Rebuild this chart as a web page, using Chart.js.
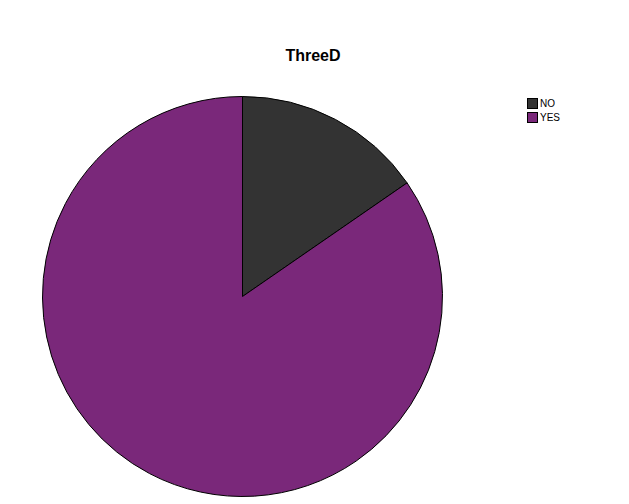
<!DOCTYPE html>
<html>
<head>
<meta charset="utf-8">
<script src="https://cdn.jsdelivr.net/npm/chart.js@4/dist/chart.umd.min.js"></script>
<style>
  body { margin: 0; background: #fff; width: 629px; height: 504px; overflow: hidden; position: relative; font-family: "Liberation Sans", Arial, sans-serif; }
  #title { position: absolute; left: 0; width: 629px; top: 47px; font-size: 16px; font-weight: bold; color: #000; }
  #title span { position: absolute; left: 313px; transform: translateX(-50%); white-space: nowrap; }
  #chart-container { position: absolute; left: 42px; top: 96px; width: 401px; height: 401px; }
  #legend { position: absolute; left: 527px; top: 98px; font-size: 10px; color: #000; }
  .item { height: 14px; line-height: 12px; white-space: nowrap; }
  .box { display: inline-block; width: 9px; height: 9px; border: 1px solid #000; vertical-align: top; margin-right: 2px; }
</style>
</head>
<body>
<div id="title"><span>ThreeD</span></div>
<div id="chart-container"><canvas id="MainChart"></canvas></div>
<div id="legend"></div>
<script>
// pie: NO / YES counts
var categories = ["NO", "YES"];
var values = [2, 11];
var colors = ['rgb(51, 51, 51)', 'rgb(122, 40, 122)'];

function drawLegend(){
    var legend = document.getElementById("legend");
    legend.innerHTML = "";
    for (var i = 0; i < categories.length; i++) {
        var row = document.createElement('div');
        row.className = 'item';
        row.innerHTML = '<span class="box" style="background:' + colors[i] + '"></span>' + categories[i];
        legend.appendChild(row);
    }
}

var ctx = document.getElementById("MainChart").getContext("2d");
var MainChart = new Chart(ctx, {
    type: 'pie',
    data: {
        labels: categories,
        datasets: [{
            data: values,
            backgroundColor: colors,
            borderColor: '#000',
            borderWidth: 1
        }]
    },
    options: {
        responsive: true,
        maintainAspectRatio: false,
        animation: false,
        layout: { padding: 0 },
        plugins: {
            legend: { display: false },
            title: { display: false },
            tooltip: { enabled: false }
        }
    }
});
drawLegend();
</script>
</body>
</html>
